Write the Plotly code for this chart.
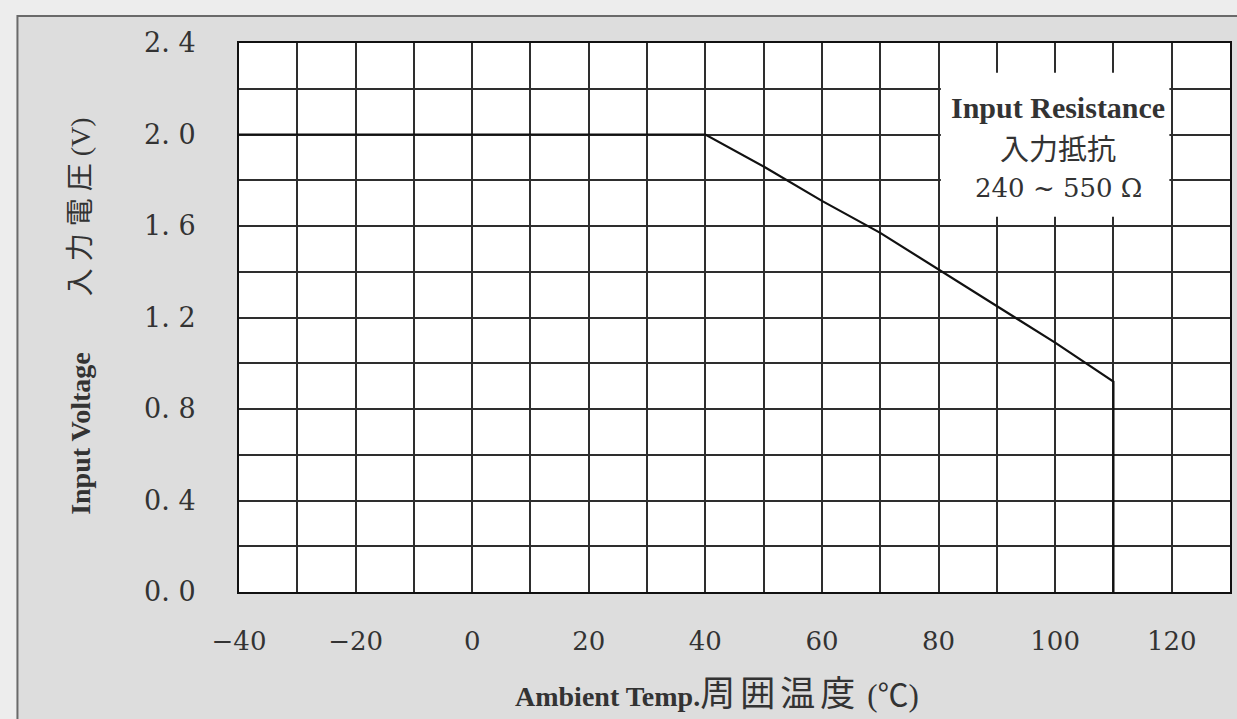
import plotly.graph_objects as go

# Data
temp = [-40, 40, 50, 60, 70, 80, 90, 100, 110, 110]
volt = [2.0, 2.0, 1.86, 1.71, 1.57, 1.41, 1.25, 1.09, 0.92, 0.0]

x_tickvals = [-40, -20, 0, 20, 40, 60, 80, 100, 120]
x_ticktext = ["−40", "−20", "0", "20", "40", "60", "80", "100", "120"]
y_tickvals = [0.0, 0.4, 0.8, 1.2, 1.6, 2.0, 2.4]
y_ticktext = ["0. 0", "0. 4", "0. 8", "1. 2", "1. 6", "2. 0", "2. 4"]

note_lines = ["Input Resistance", "入力抵抗", "240 ~ 550 Ω"]
note_y = [2.116, 1.945, 1.766]

NB = "\u00a0"
x_title = ("<b>Ambient Temp.</b>"
           "<span style='font-size:35px;font-family:Noto Sans CJK JP;letter-spacing:5px'>"
           "周囲温度</span>" + NB +
           "<span style='font-size:31px'>(℃)</span>")
y_title = ("<b>Input Voltage</b>" + NB * 8 + "入" + NB + "力" + NB + "電" + NB + "圧"
           + NB + "(V)")

GRID = "#2e2e2e"
TXT = "#333333"
SERIF = "DejaVu Serif, Noto Sans CJK JP"
TSERIF = "Liberation Serif, Noto Sans CJK JP"

fig = go.Figure()
fig.add_trace(go.Scatter(x=temp, y=volt, mode="lines",
                         line=dict(color="#111111", width=2.2),
                         hoverinfo="skip", showlegend=False))

# outer panel
fig.add_shape(type="rect", xref="paper", yref="paper",
              x0=(17 - 239) / 993, x1=1.1, y0=-0.4, y1=(592 - 16) / 549,
              fillcolor="#dddddd", line=dict(color="#6a6a6a", width=2),
              layer="below")
# white plot area (below gridlines)
fig.add_shape(type="rect", xref="x", yref="y", x0=-40, x1=130, y0=0, y1=2.4,
              fillcolor="white", line=dict(width=0), layer="below")
# annotation box
fig.add_shape(type="rect", xref="x", yref="y", x0=80.4, x1=119.6, y0=1.64, y1=2.27,
              fillcolor="white", line=dict(width=0), layer="above")

fonts = [dict(family=TSERIF, size=30, color=TXT),
         dict(family="Noto Sans CJK JP", size=29, color=TXT),
         dict(family=SERIF, size=26, color=TXT)]
for i, line in enumerate(note_lines):
    txt = "<b>" + line + "</b>" if i == 0 else line
    fig.add_annotation(x=100.5, y=note_y[i], xref="x", yref="y", showarrow=False,
                       text=txt, font=fonts[i])

fig.add_annotation(x=(718 - 239) / 993, y=(592 - 718) / 549, xref="paper", yref="paper",
                   showarrow=False, text=x_title,
                   font=dict(family=TSERIF, size=28, color=TXT))
fig.add_annotation(x=(62 - 239) / 993, y=(592 - 316) / 549, xref="paper", yref="paper",
                   showarrow=False, text=y_title, textangle=-90,
                   font=dict(family=TSERIF, size=28, color=TXT))

fig.update_xaxes(range=[-40, 130], tickmode="array", tickvals=x_tickvals, ticktext=x_ticktext,
                 showgrid=True, gridcolor=GRID, gridwidth=1.6,
                 minor=dict(tickmode="linear", tick0=-40, dtick=10, showgrid=True,
                            gridcolor=GRID, gridwidth=1.6),
                 showline=True, linecolor="#111111", linewidth=2, mirror=True,
                 zeroline=False, ticks="", ticklabelstandoff=25,
                 tickfont=dict(family=SERIF, size=26, color=TXT))
fig.update_yaxes(range=[0, 2.4], tickmode="array", tickvals=y_tickvals, ticktext=y_ticktext,
                 showgrid=True, gridcolor=GRID, gridwidth=1.6,
                 minor=dict(tickmode="linear", tick0=0, dtick=0.2, showgrid=True,
                            gridcolor=GRID, gridwidth=1.6),
                 showline=True, linecolor="#111111", linewidth=2, mirror=True,
                 zeroline=False, ticks="", ticklabelstandoff=36,
                 tickfont=dict(family=SERIF, size=27, color=TXT))

fig.update_layout(width=1237, height=719, autosize=False,
                  margin=dict(l=239, r=5, t=43, b=127),
                  paper_bgcolor="#ededed", plot_bgcolor="white",
                  showlegend=False)

fig.write_html("out.html", config={"displayModeBar": False},
               post_script="document.body.style.margin='0';document.body.style.overflow='hidden';")
